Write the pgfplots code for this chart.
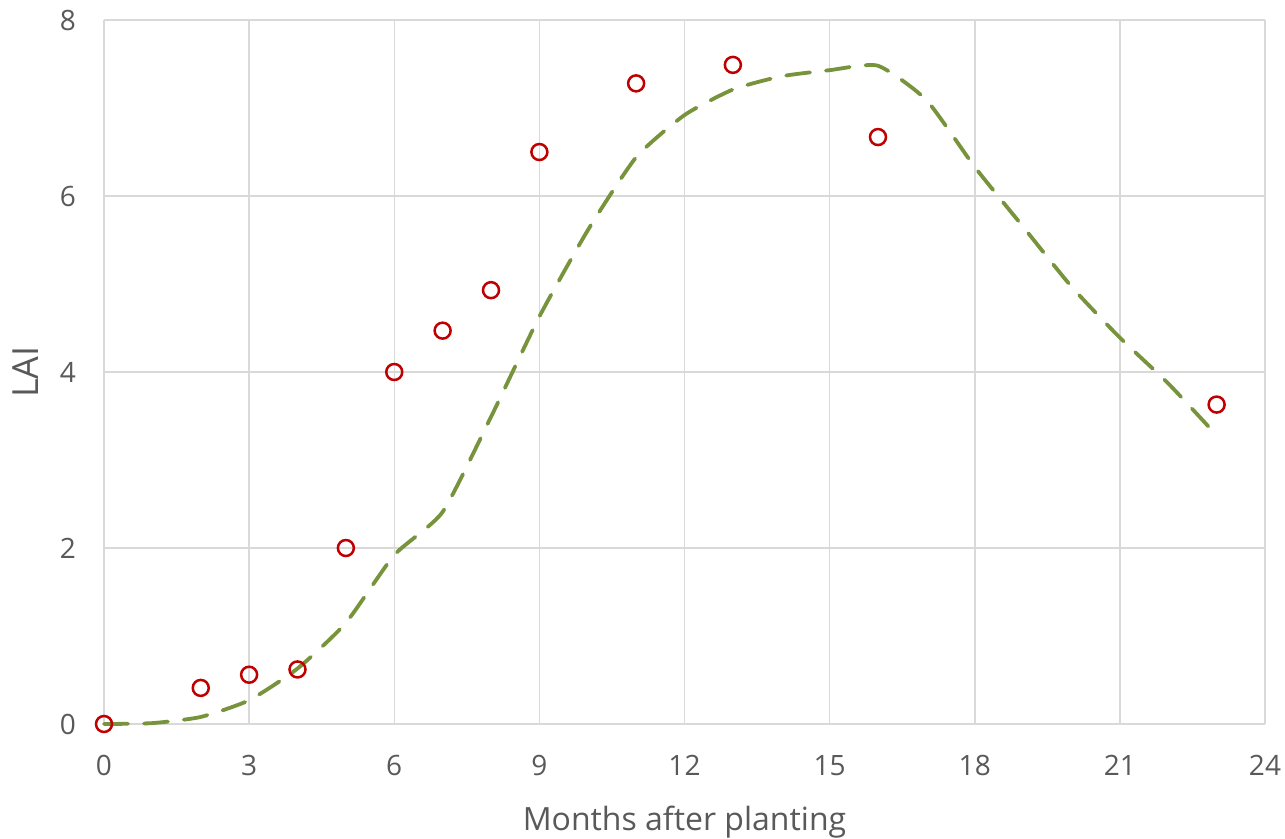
\documentclass[border=0pt]{standalone}
\usepackage{fontspec}
\setmainfont{Open Sans}
\usepackage{pgfplots}
\pgfplotsset{compat=1.18}
\definecolor{tickgray}{HTML}{595959}
\definecolor{gridgray}{HTML}{D9D9D9}
\definecolor{olive}{HTML}{77933C}
\definecolor{darkred}{HTML}{C00000}
\begin{document}
\begin{tikzpicture}
\useasboundingbox (-52bp,-57.5bp) rectangle (590.5bp,362bp);
\begin{axis}[
  at={(0,0)}, anchor=south west,
  scale only axis, width=580.5bp, height=352bp,
  xmin=0, xmax=24, ymin=0, ymax=8,
  xtick={0,3,...,24}, ytick={0,2,...,8},
  grid=major,
  major grid style={gridgray, line width=0.75bp},
  axis line style={draw=none},
  tick style={draw=none},
  /pgf/number format/assume math mode=true,
  ticklabel style={font=\fontsize{14bp}{16bp}\selectfont, text=tickgray},
  xticklabel style={yshift=-12bp},
  yticklabel style={xshift=-10.5bp},
  xlabel={Months after planting},
  ylabel={LAI},
  xlabel style={font=\fontsize{16bp}{19bp}\selectfont, text=tickgray,
    at={(axis description cs:0.5,-0.1506)}, anchor=base},
  ylabel style={font=\fontsize{18bp}{22bp}\selectfont, text=tickgray,
    at={(axis description cs:-0.0672,0.5)}, anchor=center},
  clip=false,
]
\addplot[olive, line width=1.9bp, smooth, tension=0.35, line cap=round,
  dash pattern=on 12bp off 8bp] coordinates {
(0,0) (1,0.01) (2,0.08) (3,0.27) (4,0.63) (5,1.15) (6,1.92) (7,2.41) (8,3.49)
(9,4.63) (10,5.61) (11,6.44) (12,6.92) (13,7.21) (14,7.36) (15,7.43) (16,7.48)
(17,7.09) (18,6.33) (19,5.65) (20,4.97) (21,4.39) (22,3.87) (23,3.28)
};
\addplot[only marks, mark=o, mark size=4bp, darkred, mark options={line width=1.25bp, fill=white}] coordinates {
(0,0) (2,0.41) (3,0.56) (4,0.62) (5,2.0) (6,4.0) (7,4.47) (8,4.93) (9,6.5)
(11,7.28) (13,7.49) (16,6.67) (23,3.63)
};
\end{axis}
\end{tikzpicture}
\end{document}
